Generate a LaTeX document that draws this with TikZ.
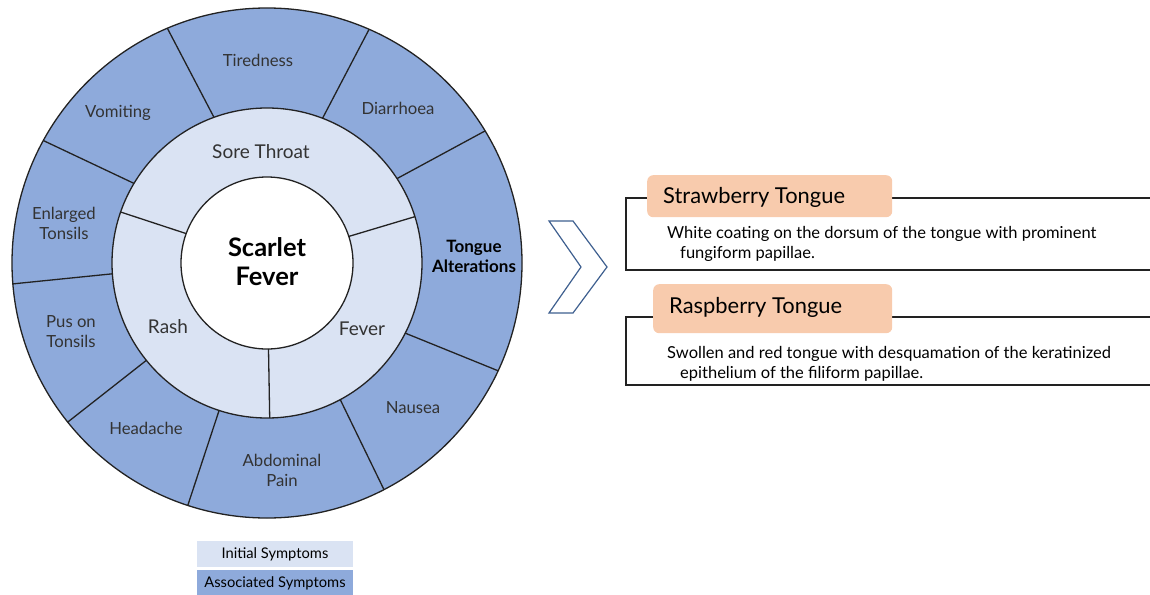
\documentclass[tikz,border=0pt]{standalone}
\usepackage{fontspec}
\setmainfont{Lato}
\definecolor{outerblue}{HTML}{8EAADB}
\definecolor{innerblue}{HTML}{DAE3F3}
\definecolor{peach}{HTML}{F8CBAD}
\definecolor{chev}{HTML}{3E5F8F}
\definecolor{ink}{HTML}{222222}
\definecolor{txt}{HTML}{333333}
\tikzset{
  ringline/.style={draw=ink, line width=1.3pt},
  lbl/.style={font=\fontsize{16.7}{20}\selectfont, text=txt, align=center, inner sep=0pt},
  innerlbl/.style={font=\fontsize{19}{22}\selectfont, text=txt, align=center, inner sep=0pt},
  boldlbl/.style={font=\fontsize{17}{20}\selectfont\bfseries, text=black, align=center, inner sep=0pt},
  titlelbl/.style={font=\fontsize{25.5}{29}\selectfont\bfseries, text=black, align=center, inner sep=0pt},
  tag/.style={fill=peach, rounded corners=6pt, inner sep=0pt, anchor=north west},
  tagtext/.style={font=\fontsize{21.9}{24}\selectfont, text=black, anchor=west, inner sep=0pt},
  desc/.style={font=\fontsize{16.5}{20}\selectfont, text=black, align=left, inner sep=0pt, anchor=base west},
  frame/.style={draw=ink, line width=1.3pt},
  legendbox/.style={minimum width=156pt, inner sep=0pt, font=\fontsize{14.7}{16}\selectfont, text=black}
}
\begin{document}
\begin{tikzpicture}[x=1pt,y=-1pt]
\useasboundingbox (0,0) rectangle (1150,594);
% ---------------- wheel ----------------
\begin{scope}[shift={(267,263)}, yscale=-1]
  \fill[outerblue] (0,0) circle[radius=255];
  \fill[innerblue] (0,0) circle[radius=155];
  \fill[white] (0,0) circle[radius=86];
  % outer ring dividers
  \foreach \a/\b in {110/113, 69/66.4, 33/31.2, -26.9/-25, -61.8/-62.7, -108/-108.1, 218.9/218.6, 184/184.7, 149.1/151.3}
    \draw[ringline] (\a:155) -- (\b:255);
  % inner ring dividers
  \foreach \a/\b in {18/17.4, 160/160.8, -89/-89}
    \draw[ringline] (\a:86) -- (\b:155);
  \draw[ringline] (0,0) circle[radius=255];
  \draw[ringline] (0,0) circle[radius=155];
  \draw[ringline] (0,0) circle[radius=86];
\end{scope}
% labels
\node[titlelbl] (sf) at (267,262) {Scarlet\\Fever};
\node[lbl] (tired) at (258,60) {Tiredness};
\node[lbl] (vomit) at (118,113) {Vomiting};
\node[lbl] (diarr) at (398,108) {Diarrhoea};
\node[innerlbl] (sore) at (261,152) {Sore Throat};
\node[lbl] (enl) at (64,223) {Enlarged\\Tonsils};
\node[boldlbl] (tongue) at (474,256) {Tongue\\Alterations};
\node[lbl] (pus) at (71,332) {Pus on\\Tonsils};
\node[innerlbl] (rash) at (168,327) {Rash};
\node[innerlbl] (fever) at (362,329) {Fever};
\node[lbl] (head) at (146,428) {Headache};
\node[lbl] (abd) at (282,470) {Abdominal\\Pain};
\node[lbl] (naus) at (413,408) {Nausea};
% legend
\node[legendbox, fill=innerblue, minimum height=26pt] (leg1) at (275,554) {Initial Symptoms};
\node[legendbox, fill=outerblue, minimum height=26pt] (leg2) at (275,583) {Associated Symptoms};
% ---------------- chevron ----------------
\draw[chev, line width=1.2pt, line join=miter] (549,221) -- (573,221) -- (607,267) -- (573,313) -- (549,313) -- (581,267) -- cycle;
% ---------------- boxes ----------------
\coordinate (f1a) at (1150,198);
\coordinate (f1b) at (626,198);
\coordinate (f1c) at (626,270);
\coordinate (f1d) at (1150,270);
\draw[frame] (f1a) -- (f1b) -- (f1c) -- (f1d);
\node[tag, minimum width=245pt, minimum height=42pt] (straw) at (647,175) {};
\node[tagtext] (strawt) at (663,197) {Strawberry Tongue};
\node[desc] (d1) at (667,258.5) {White coating on the dorsum of the tongue with prominent\\\hspace*{13pt}fungiform papillae.};
\coordinate (f2a) at (1150,317);
\coordinate (f2b) at (626,317);
\coordinate (f2c) at (626,385);
\coordinate (f2d) at (1150,385);
\draw[frame] (f2a) -- (f2b) -- (f2c) -- (f2d);
\node[tag, minimum width=239pt, minimum height=49pt] (rasp) at (653,284) {};
\node[tagtext] (raspt) at (669,307) {Raspberry Tongue};
\node[desc] (d2) at (667,378.5) {Swollen and red tongue with desquamation of the keratinized\\\hspace*{13pt}epithelium of the filiform papillae.};
\end{tikzpicture}
\end{document}
